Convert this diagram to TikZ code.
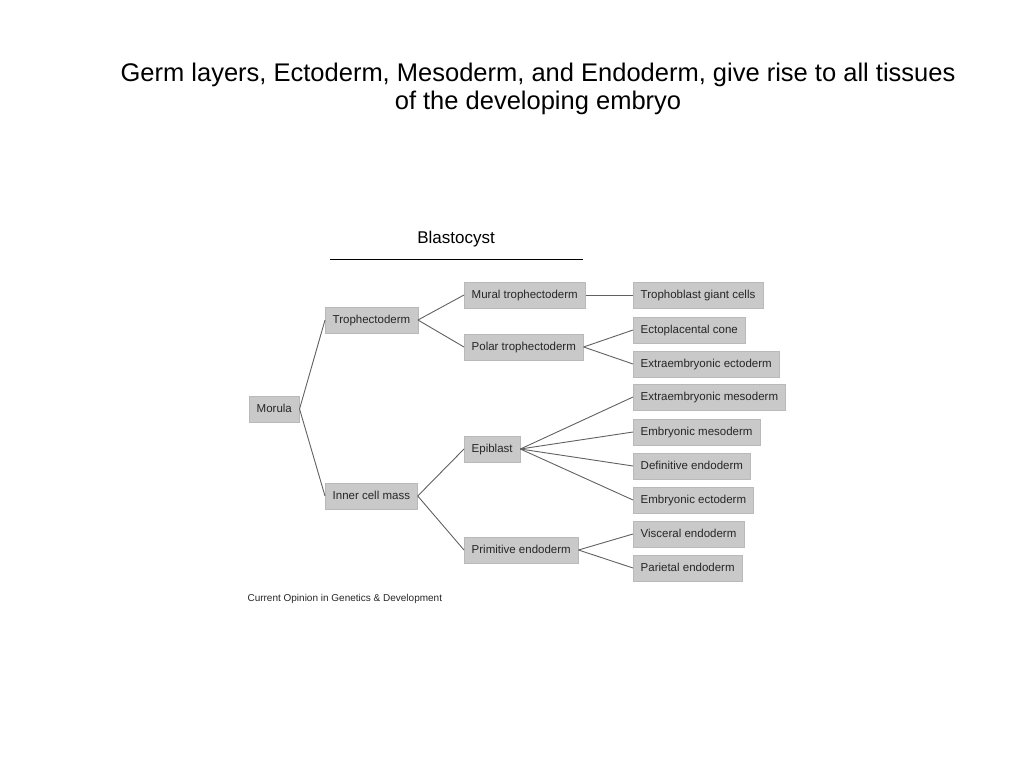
\documentclass[tikz,border=0pt]{standalone}
\usepackage{fontspec}
\setmainfont{Liberation Sans}
\usetikzlibrary{positioning}
\tikzset{box/.style={anchor=west, fill=gray!42, draw=gray!55, line width=0.4pt,
    minimum height=26pt, inner xsep=7.5pt, inner ysep=0pt, text height=8.5pt, text depth=1pt,
    font=\fontsize{11.5}{13}\selectfont, text=black!85}}
\tikzset{link/.style={draw=black!62, line width=0.9pt}}

\begin{document}
\begin{tikzpicture}[x=1pt,y=-1pt]
      \useasboundingbox (0,0) rectangle (1024,768);
      \node [font=\fontsize{25.5}{28}\selectfont, align=center] (title) at (538,89)
        {Germ layers, Ectoderm, Mesoderm, and Endoderm, give rise to all tissues\\of the developing embryo};

      \node [font=\fontsize{17}{19}\selectfont] (blasto) at (456,239) {Blastocyst};
      \coordinate (bl) at (330,259);
      \coordinate (br) at (583,259);
      \draw [line width=0.9pt] (bl) -- (br);

      % first and second columns
      \node [box] (morula) at (249,409) {Morula};
      \node [box] (troph) at (325,320) {Trophectoderm};
      \node [box] (icm) at (325,496) {Inner cell mass};

      % third column
      \node [box] (mural) at (464,295) {Mural trophectoderm};
      \node [box] (polar) at (464,347) {Polar trophectoderm};
      \node [box] (epi) at (464,449) {Epiblast};
      \node [box] (prim) at (464,550) {Primitive endoderm};

      % last column
      \node [box] (giant) at (633,295) {Trophoblast giant cells};
      \node [box] (cone) at (633,330) {Ectoplacental cone};
      \node [box] (exect) at (633,364) {Extraembryonic ectoderm};
      \node [box] (exmes) at (633,397) {Extraembryonic mesoderm};
      \node [box] (emes) at (633,432) {Embryonic mesoderm};
      \node [box] (defend) at (633,466) {Definitive endoderm};
      \node [box] (eect) at (633,500) {Embryonic ectoderm};
      \node [box] (visc) at (633,534) {Visceral endoderm};
      \node [box] (pari) at (633,568) {Parietal endoderm};

      \foreach \a/\b in {morula/troph, morula/icm, troph/mural, troph/polar,
          icm/epi, icm/prim, mural/giant, polar/cone, polar/exect,
          epi/exmes, epi/emes, epi/defend, epi/eect, prim/visc, prim/pari}
        \draw [link] (\a.east) -- (\b.west);

      \node [anchor=west, font=\fontsize{10}{12}\selectfont, text=black!85] (credit) at (244,599)
        {Current Opinion in Genetics \& Development};
    \end{tikzpicture}
\end{document}
